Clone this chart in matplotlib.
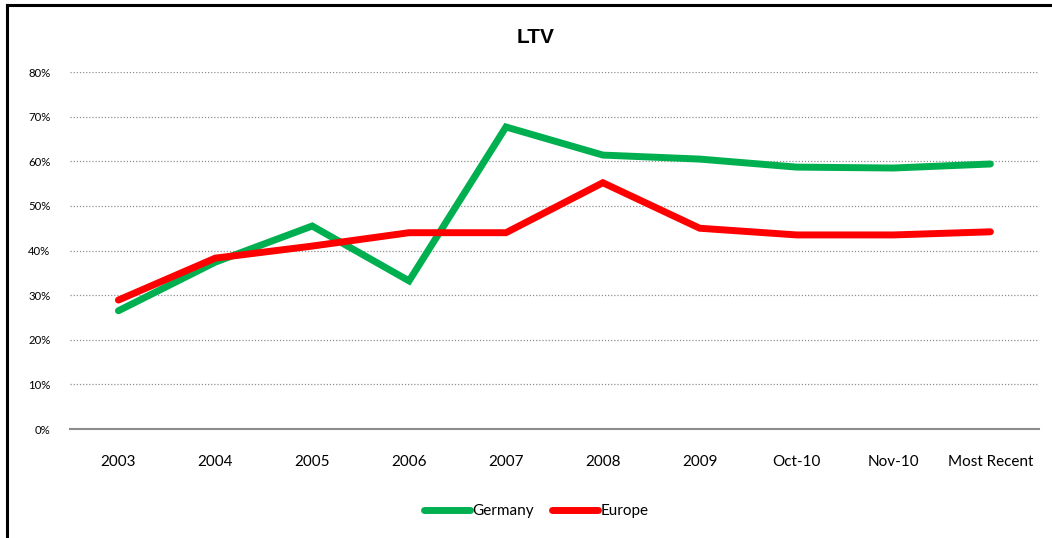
import matplotlib.pyplot as plt
from matplotlib.lines import Line2D
from matplotlib.ticker import PercentFormatter

categories = ['2003', '2004', '2005', '2006', '2007', '2008', '2009', 'Oct-10', 'Nov-10', 'Most Recent']
germany = [0.265, 0.374, 0.455, 0.332, 0.677, 0.614, 0.605, 0.587, 0.585, 0.594]
europe = [0.289, 0.383, 0.410, 0.440, 0.440, 0.552, 0.450, 0.435, 0.435, 0.442]

plt.rcParams['font.family'] = ['Lato', 'DejaVu Sans']

fig = plt.figure(figsize=(10.52, 5.38), dpi=100)
ax = fig.add_axes([0.0665, 0.2026, 0.921, 0.6634])

x = range(len(categories))
ax.plot(x, germany, color='#00b050', lw=5, solid_capstyle='round', solid_joinstyle='miter', label='Germany')
ax.plot(x, europe, color='#ff0000', lw=5, solid_capstyle='round', solid_joinstyle='miter', label='Europe')

ax.set_xlim(-0.5, len(categories) - 0.5)
ax.set_ylim(0, 0.8)
ax.set_yticks([i / 10 for i in range(9)])
ax.yaxis.set_major_formatter(PercentFormatter(1.0, decimals=0))
ax.set_xticks(list(x))
ax.set_xticklabels(categories)
ax.tick_params(axis='y', length=0, labelsize=8.2, pad=14)
ax.tick_params(axis='x', length=0, labelsize=11, pad=18.5)
ax.grid(axis='y', color='#909090', ls=(0, (1, 1.5)), lw=0.9)
ax.set_axisbelow(True)
for s in ['top', 'right', 'left']:
    ax.spines[s].set_visible(False)
ax.spines['bottom'].set_color('#8c8c8c')
ax.spines['bottom'].set_linewidth(1.5)

fig.text(0.509, 0.93, 'LTV', ha='center', va='center', fontsize=15, fontweight='bold',
         family='Liberation Sans')

fig.legend(loc='center', bbox_to_anchor=(0.51, 0.05), ncol=2, frameon=False, fontsize=11,
           handlelength=3.0, handletextpad=0.15, columnspacing=1.2)

# outer frame (left and top)
fig.add_artist(Line2D([0.0062, 0.0062], [0, 0.991], transform=fig.transFigure, color='black', lw=2.2))
fig.add_artist(Line2D([0.0062, 1.0], [0.991, 0.991], transform=fig.transFigure, color='black', lw=2.2))

fig.savefig('out.png', dpi=100)
